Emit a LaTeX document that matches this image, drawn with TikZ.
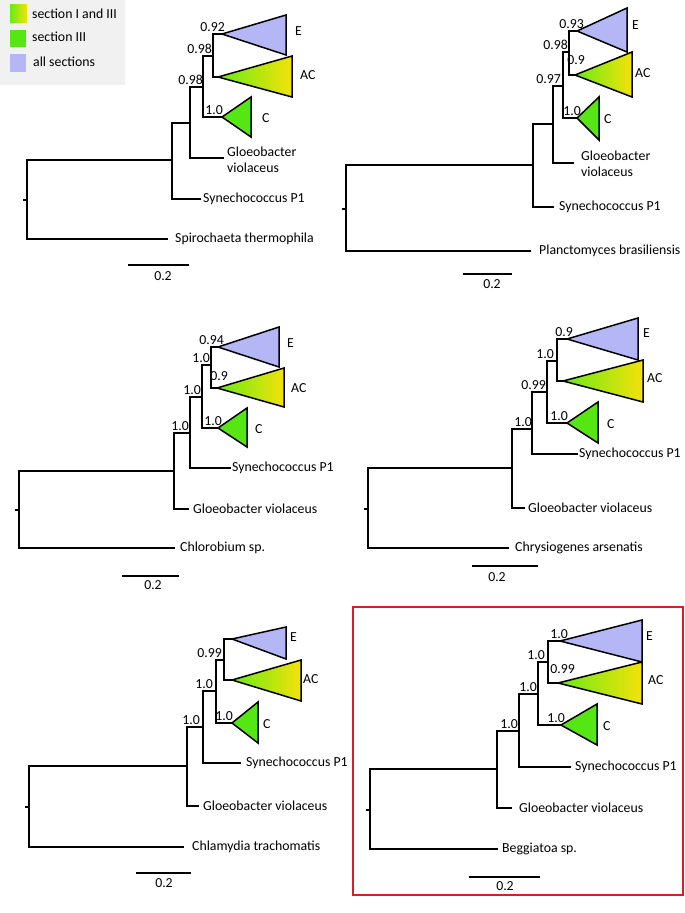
\documentclass[tikz,border=0pt]{standalone}
\usepackage{fontspec}
\setmainfont{Carlito}
\definecolor{lav}{RGB}{180,182,245}
\definecolor{grn}{RGB}{85,230,20}
\definecolor{gstart}{RGB}{105,235,20}
\definecolor{gmid}{RGB}{200,238,10}
\definecolor{yel}{RGB}{245,225,10}
\definecolor{legbg}{RGB}{241,241,241}
\definecolor{framered}{RGB}{214,30,36}
\newcommand\triE[5]{\filldraw[tri,fill=lav] (#1,#2) -- (#3,#4) -- (#3,#5) -- cycle;}
\newcommand\triC[5]{\filldraw[tri,fill=grn] (#1,#2) -- (#3,#4) -- (#3,#5) -- cycle;}
\newcommand\triAC[5]{\shade[left color=gstart,middle color=gmid,right color=yel] (#1,#2) -- (#3,#4) -- (#3,#5) -- cycle;
  \draw[tri] (#1,#2) -- (#3,#4) -- (#3,#5) -- cycle;}
\newcommand\supp[3]{\node[bs] at (#1,#2) {#3};}
\newcommand\lab[3]{\node[lbl] at (#1,#2) {#3};}
\begin{document}
\begin{tikzpicture}[x=1pt,y=-1pt,
  every node/.style={font=\fontsize{13.8}{16}\selectfont},
  br/.style={line width=1.5pt,line cap=rect},
  tri/.style={draw=black,line width=1.5pt,line join=miter},
  bs/.style={anchor=base east,inner sep=0pt,yshift=2.5pt},
  lbl/.style={anchor=west,inner sep=0pt,align=left},
  scl/.style={anchor=center,inner sep=0pt}]
\useasboundingbox (0,0) rectangle (685,913);
\fill[white] (0,0) rectangle (685,913);
% legend
\fill[legbg] (0,0) rectangle (125,85);
\shade[left color=gstart,middle color=gmid,right color=yel] (10,4) rectangle (27,22);
\fill[grn] (10,30) rectangle (26,47);
\fill[lav] (10,54) rectangle (26,72);
\lab{32}{14}{section I and III}
\lab{32}{37}{section III}
\lab{33}{62}{all sections}

% ===== Tree 1 =====
\draw[br] (24,200) -- (27,200);
\draw[br] (172,160) -- (27,160) -- (27,239) -- (167,239);
\lab{175}{239}{Spirochaeta thermophila}
\draw[br] (190,123) -- (172,123) -- (172,199) -- (200,199);
\lab{203}{199}{Synechococcus P1}
\draw[br] (203,87) -- (190,87) -- (190,158) -- (223,158);
\lab{227}{160}{Gloeobacter\\violaceus}
\supp{203}{87}{0.98}
\draw[br] (213,56) -- (203,56) -- (203,117) -- (222,117);
\supp{223}{117}{1.0}
\supp{212}{56}{0.98}
\draw[br] (222,34) -- (213,34) -- (213,77) -- (218,77);
\supp{225}{34}{0.92}
\triE{222}{34}{286}{15}{55}
\triAC{218}{77}{292}{56}{97}
\triC{222}{117}{251}{97}{137}
\lab{295}{31}{E}
\lab{300}{75}{AC}
\lab{262}{118}{C}
\draw[br] (129,265) -- (188,265);
\node[scl] at (163,276) {0.2};

% ===== Tree 2 =====
\draw[br] (343,209) -- (346,209);
\draw[br] (533,165) -- (346,165) -- (346,251) -- (530,251);
\lab{539}{251}{Planctomyces brasiliensis}
\draw[br] (553,124) -- (533,124) -- (533,207) -- (553,207);
\lab{559}{207}{Synechococcus P1}
\draw[br] (563,86) -- (553,86) -- (553,163) -- (573,163);
\lab{581}{164}{Gloeobacter\\violaceus}
\supp{561}{86}{0.97}
\draw[br] (569,52) -- (563,52) -- (563,118) -- (577,118);
\supp{581}{118}{1.0}
\supp{568}{52}{0.98}
\draw[br] (577,31) -- (569,31) -- (569,75) -- (575,75);
\supp{584}{31}{0.93}
\supp{585}{67}{0.9}
\triE{577}{31}{627}{8}{52}
\triAC{575}{75}{632}{52}{97}
\triC{577}{118}{599}{97}{140}
\lab{632}{25}{E}
\lab{635}{73}{AC}
\lab{604}{119}{C}
\draw[br] (464,274) -- (511,274);
\node[scl] at (492,284) {0.2};

% ===== Tree 3 =====
\draw[br] (16,510) -- (19,510);
\draw[br] (174,471) -- (19,471) -- (19,548) -- (174,548);
\lab{180}{548}{Chlorobium sp.}
\draw[br] (190,433) -- (174,433) -- (174,509) -- (188,509);
\lab{193}{509}{Gloeobacter violaceus}
\supp{189}{433}{1.0}
\draw[br] (202,397) -- (190,397) -- (190,468) -- (230,468);
\lab{232}{468}{Synechococcus P1}
\supp{201}{397}{1.0}
\draw[br] (211,365) -- (202,365) -- (202,428) -- (218,428);
\supp{222}{428}{1.0}
\supp{210}{365}{1.0}
\draw[br] (218,347) -- (211,347) -- (211,388) -- (217,388);
\supp{224}{347}{0.94}
\supp{228}{383}{0.9}
\triE{218}{347}{279}{327}{367}
\triAC{217}{388}{284}{368}{407}
\triC{218}{428}{247}{408}{447}
\lab{287}{343}{E}
\lab{291}{388}{AC}
\lab{255}{429}{C}
\draw[br] (123,576) -- (178,576);
\node[scl] at (153,585) {0.2};

% ===== Tree 4 =====
\draw[br] (365,509) -- (368,509);
\draw[br] (512,468) -- (368,468) -- (368,548) -- (508,548);
\lab{515}{548}{Chrysiogenes arsenatis}
\draw[br] (532,429) -- (512,429) -- (512,508) -- (524,508);
\lab{528}{508}{Gloeobacter violaceus}
\supp{532}{429}{1.0}
\draw[br] (547,392) -- (532,392) -- (532,454) -- (577,454);
\lab{579}{454}{Synechococcus P1}
\supp{546}{392}{0.99}
\draw[br] (557,361) -- (547,361) -- (547,423) -- (567,423);
\supp{568}{423}{1.0}
\supp{554}{361}{1.0}
\draw[br] (567,339) -- (557,339) -- (557,381) -- (563,381);
\supp{573}{339}{0.9}
\triE{567}{339}{638}{318}{360}
\triAC{563}{381}{643}{360}{402}
\triC{567}{423}{598}{402}{443}
\lab{643}{333}{E}
\lab{647}{378}{AC}
\lab{607}{424}{C}
\draw[br] (473,566) -- (537,566);
\node[scl] at (497,577) {0.2};

% ===== Tree 5 =====
\draw[br] (26,807) -- (29,807);
\draw[br] (187,766) -- (29,766) -- (29,847) -- (183,847);
\lab{192}{847}{Chlamydia trachomatis}
\draw[br] (203,727) -- (187,727) -- (187,806) -- (198,806);
\lab{203}{806}{Gloeobacter violaceus}
\supp{200}{727}{1.0}
\draw[br] (216,691) -- (203,691) -- (203,763) -- (240,763);
\lab{246}{763}{Synechococcus P1}
\supp{213}{691}{1.0}
\draw[br] (224,660) -- (216,660) -- (216,723) -- (232,723);
\supp{233}{723}{1.0}
\supp{222}{660}{0.99}
\draw[br] (232,639) -- (224,639) -- (224,680) -- (232,680);
\triE{232}{639}{286}{627}{659}
\triAC{232}{680}{301}{660}{701}
\triC{232}{723}{258}{702}{743}
\lab{290}{637}{E}
\lab{303}{679}{AC}
\lab{263}{724}{C}
\draw[br] (137,873) -- (190,873);
\node[scl] at (164,883) {0.2};

% ===== Tree 6 =====
\draw[framered,line width=2pt] (353,607) rectangle (683,895);
\draw[br] (367,810) -- (370,810);
\draw[br] (497,769) -- (370,769) -- (370,849) -- (497,849);
\lab{502}{849}{Beggiatoa sp.}
\draw[br] (519,731) -- (497,731) -- (497,808) -- (511,808);
\lab{519}{808}{Gloeobacter violaceus}
\supp{518}{731}{1.0}
\draw[br] (538,694) -- (519,694) -- (519,767) -- (570,767);
\lab{575}{767}{Synechococcus P1}
\supp{537}{694}{1.0}
\draw[br] (548,662) -- (538,662) -- (538,725) -- (561,725);
\supp{565}{725}{1.0}
\supp{545}{662}{1.0}
\draw[br] (560,641) -- (548,641) -- (548,683) -- (558,683);
\supp{568}{641}{1.0}
\supp{575}{676}{0.99}
\triE{560}{641}{642}{620}{662}
\triAC{558}{683}{642}{662}{704}
\triC{561}{725}{597}{704}{745}
\lab{646}{636}{E}
\lab{648}{680}{AC}
\lab{603}{726}{C}
\draw[br] (470,877) -- (539,877);
\node[scl] at (505,886) {0.2};
\end{tikzpicture}
\end{document}
